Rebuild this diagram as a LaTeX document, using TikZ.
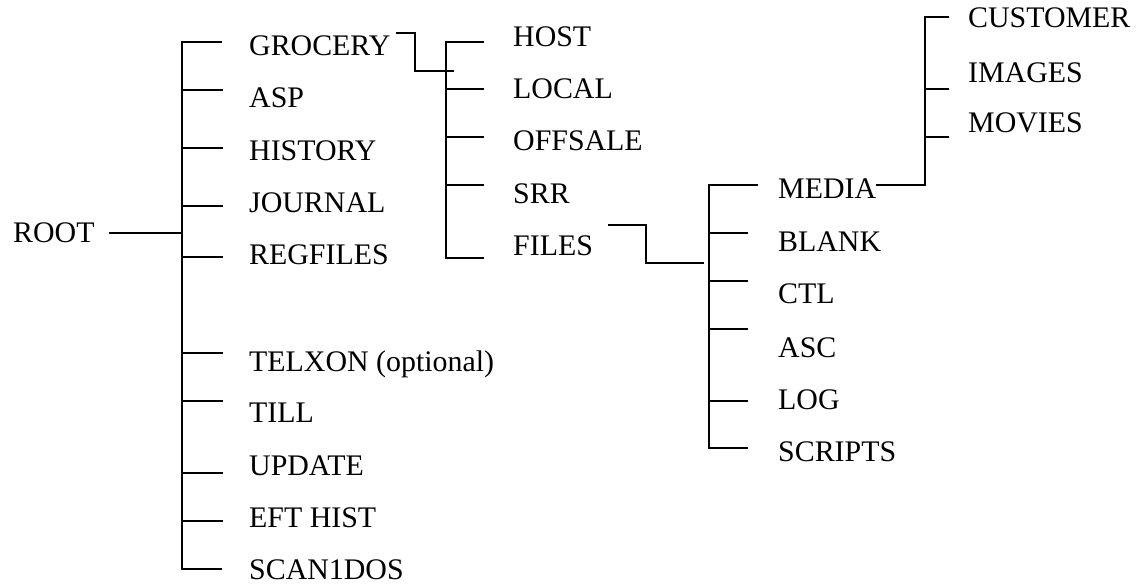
\documentclass[tikz,border=0pt]{standalone}
\usepackage{fontspec}
\setmainfont{Liberation Serif}
\begin{document}
\begin{tikzpicture}[x=1bp,y=-1bp,
  lbl/.style={anchor=base west,inner sep=0pt,font=\fontsize{30}{36}\selectfont},
  wire/.style={line width=2bp,line join=miter}]
\useasboundingbox (0,0) rectangle (1147,584);

% ---- labels ----
\node[lbl] (root) at (13,243) {ROOT};

\node[lbl] (grocery)  at (249,56)  {GROCERY};
\node[lbl] (asp)      at (249,108) {ASP};
\node[lbl] (history)  at (249,160.5) {HISTORY};
\node[lbl] (journal)  at (249,213) {JOURNAL};
\node[lbl] (regfiles) at (249,265) {REGFILES};
\node[lbl] (telxon)   at (249,371) {TELXON (optional)};
\node[lbl] (till)     at (249,422) {TILL};
\node[lbl] (update)   at (249,475) {UPDATE};
\node[lbl] (efthist)  at (249,527) {EFT HIST};
\node[lbl] (scan)     at (249,579) {SCAN1DOS};

\node[lbl] (host)     at (513,46.5) {HOST};
\node[lbl] (local)    at (513,99)   {LOCAL};
\node[lbl] (offsale)  at (513,151)  {OFFSALE};
\node[lbl] (srr)      at (513,204)  {SRR};
\node[lbl] (files)    at (513,256)  {FILES};

\node[lbl] (media)    at (778,199) {MEDIA};
\node[lbl] (blank)    at (778,252) {BLANK};
\node[lbl] (ctl)      at (778,304) {CTL};
\node[lbl] (asc)      at (778,357) {ASC};
\node[lbl] (log)      at (778,409) {LOG};
\node[lbl] (scripts)  at (778,461) {SCRIPTS};

\node[lbl] (customer) at (968,28)  {CUSTOMER};
\node[lbl] (images)   at (968,83)  {IMAGES};
\node[lbl] (movies)   at (968,133) {MOVIES};

% ---- bus lines ----
\coordinate (busA) at (182,0);
\coordinate (busB) at (446,0);
\coordinate (busC) at (709,0);
\coordinate (busD) at (925,0);

% root level
\draw[wire] ([xshift=14bp]root.east |- 0,233) -- (busA |- 0,233);
\draw[wire] (222,42) -- (busA |- 0,42) -- (busA |- 0,569) -- (222,569);
\foreach \y in {90,148,206,257,353,401,473,521}
  \draw[wire] (busA |- 0,\y) -- (223,\y);

% GROCERY subtree
\draw[wire] (396,33) -| (415,71) -- (454,71);
\draw[wire] (484,42) -- (busB |- 0,42) -- (busB |- 0,258) -- (484,258);
\foreach \y in {89,137,185}
  \draw[wire] (busB |- 0,\y) -- (484,\y);

% FILES subtree
\draw[wire] (608,225) -| (646,263) -- (704,263);
\draw[wire] (758,185) -- (busC |- 0,185) -- (busC |- 0,448) -- (748,448);
\foreach \y in {233,281,329,401}
  \draw[wire] (busC |- 0,\y) -- (748,\y);

% MEDIA subtree
\draw[wire] (media.east |- 0,185) -- (busD |- 0,185) -- (busD |- 0,17) -- (949,17);
\foreach \y in {89,137}
  \draw[wire] (busD |- 0,\y) -- (949,\y);
\end{tikzpicture}
\end{document}
